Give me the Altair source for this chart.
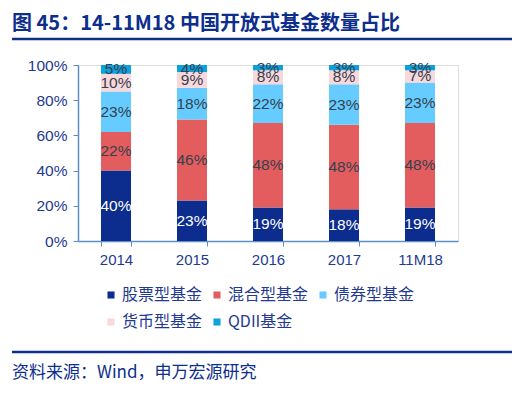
import altair as alt
import pandas as pd

years = ["2014", "2015", "2016", "2017", "11M18"]
series = ["股票型基金", "混合型基金", "债券型基金", "货币型基金", "QDII基金"]
stock = [40, 23, 19, 18, 19]
mixed = [22, 46, 48, 48, 48]
bond = [23, 18, 22, 23, 23]
money = [10, 9, 8, 8, 7]
qdii = [5, 4, 3, 3, 3]
colors = ["#0C2C8E", "#E35D5E", "#66CCFF", "#F8D8DB", "#0BA2E0"]

rows = []
for i, y in enumerate(years):
    for k, (s, vals) in enumerate(zip(series, [stock, mixed, bond, money, qdii])):
        rows.append({"year": y, "series": s, "idx": k, "value": vals[i]})
df = pd.DataFrame(rows)

CJK = "Noto Sans CJK SC"
NUM = "Liberation Sans"
NAVY = "#1F3A8F"

xax = alt.Axis(labelAngle=0, labelFont=NUM, labelFontSize=15, labelColor=NAVY,
               domainColor="#5B8FC9", tickColor="#5B8FC9", tickSize=5,
               tickBand="extent", labelPadding=6, grid=False, domainWidth=1.5)
yax = alt.Axis(values=[0, 20, 40, 60, 80, 100], labelExpr="datum.value + '%'",
               labelFont=NUM, labelFontSize=15.5, labelColor=NAVY,
               labelOverlap=False, labelFlush=False, tickCount=6,
               domainColor="#5B8FC9", tickColor="#5B8FC9", tickSize=5,
               labelPadding=6, grid=False, domainWidth=1.5)
xsc = alt.Scale(paddingInner=0.6, paddingOuter=0.3)
ysc = alt.Scale(domain=[0, 100], nice=False)

base = alt.Chart(df)

bars = base.mark_bar(size=30).encode(
    x=alt.X("year:N", sort=years, title=None, scale=xsc, axis=xax),
    y=alt.Y("value:Q", stack="zero", title=None, scale=ysc, axis=yax),
    color=alt.Color("series:N", sort=series,
                    scale=alt.Scale(domain=series, range=colors),
                    legend=alt.Legend(title=None, orient="none", legendX=25, legendY=222,
                                      direction="horizontal",
                                      columns=3, symbolType="square", symbolSize=50,
                                      symbolStrokeWidth=0, labelFont=CJK, labelFontSize=16,
                                      labelColor=NAVY, columnPadding=6, rowPadding=11,
                                      labelOffset=3)),
    order=alt.Order("idx:Q", sort="ascending"),
)

labels = base.transform_window(
    cum="sum(value)", sort=[alt.SortField("idx")], groupby=["year"],
    frame=[None, 0]
).transform_calculate(
    mid="datum.cum - datum.value / 2",
    txt="datum.value + '%'"
).mark_text(font=NUM, fontSize=15.5, baseline="middle").encode(
    x=alt.X("year:N", sort=years, title=None, scale=xsc, axis=xax),
    y=alt.Y("mid:Q", title=None, scale=ysc, axis=yax),
    text="txt:N",
    color=alt.condition("datum.idx == 0", alt.value("white"), alt.value("#36404F")),
)

one = pd.DataFrame({"a": [0]})
title_txt = alt.Chart(one).mark_text(
    text="图 45：14-11M18 中国开放式基金数量占比", font=CJK, fontSize=20, fontWeight="bold",
    color="#0D2E8C", align="left", baseline="middle"
).encode(x=alt.value(-66), y=alt.value(-41))
title_line = alt.Chart(one).mark_rule(color="#0D2E8C", strokeWidth=2.5).encode(
    x=alt.value(-66), x2=alt.value(434), y=alt.value(-26))
src_line = alt.Chart(one).mark_rule(color="#0D2E8C", strokeWidth=2.5).encode(
    x=alt.value(-66), x2=alt.value(434), y=alt.value(287))
src_txt = alt.Chart(one).mark_text(
    text="资料来源：Wind，申万宏源研究", font=CJK, fontSize=17,
    color="#0D2E8C", align="left", baseline="middle"
).encode(x=alt.value(-66), y=alt.value(308))

chart = alt.layer(bars, labels, title_txt, title_line, src_line, src_txt).properties(
    width=380, height=176,
    autosize=alt.AutoSizeParams(type="none"),
    padding={"left": 70, "top": 57, "right": 54, "bottom": 149},
).configure_view(stroke=None).configure(background="white")

chart.save("out.html", embed_options={"renderer": "svg", "actions": False})
